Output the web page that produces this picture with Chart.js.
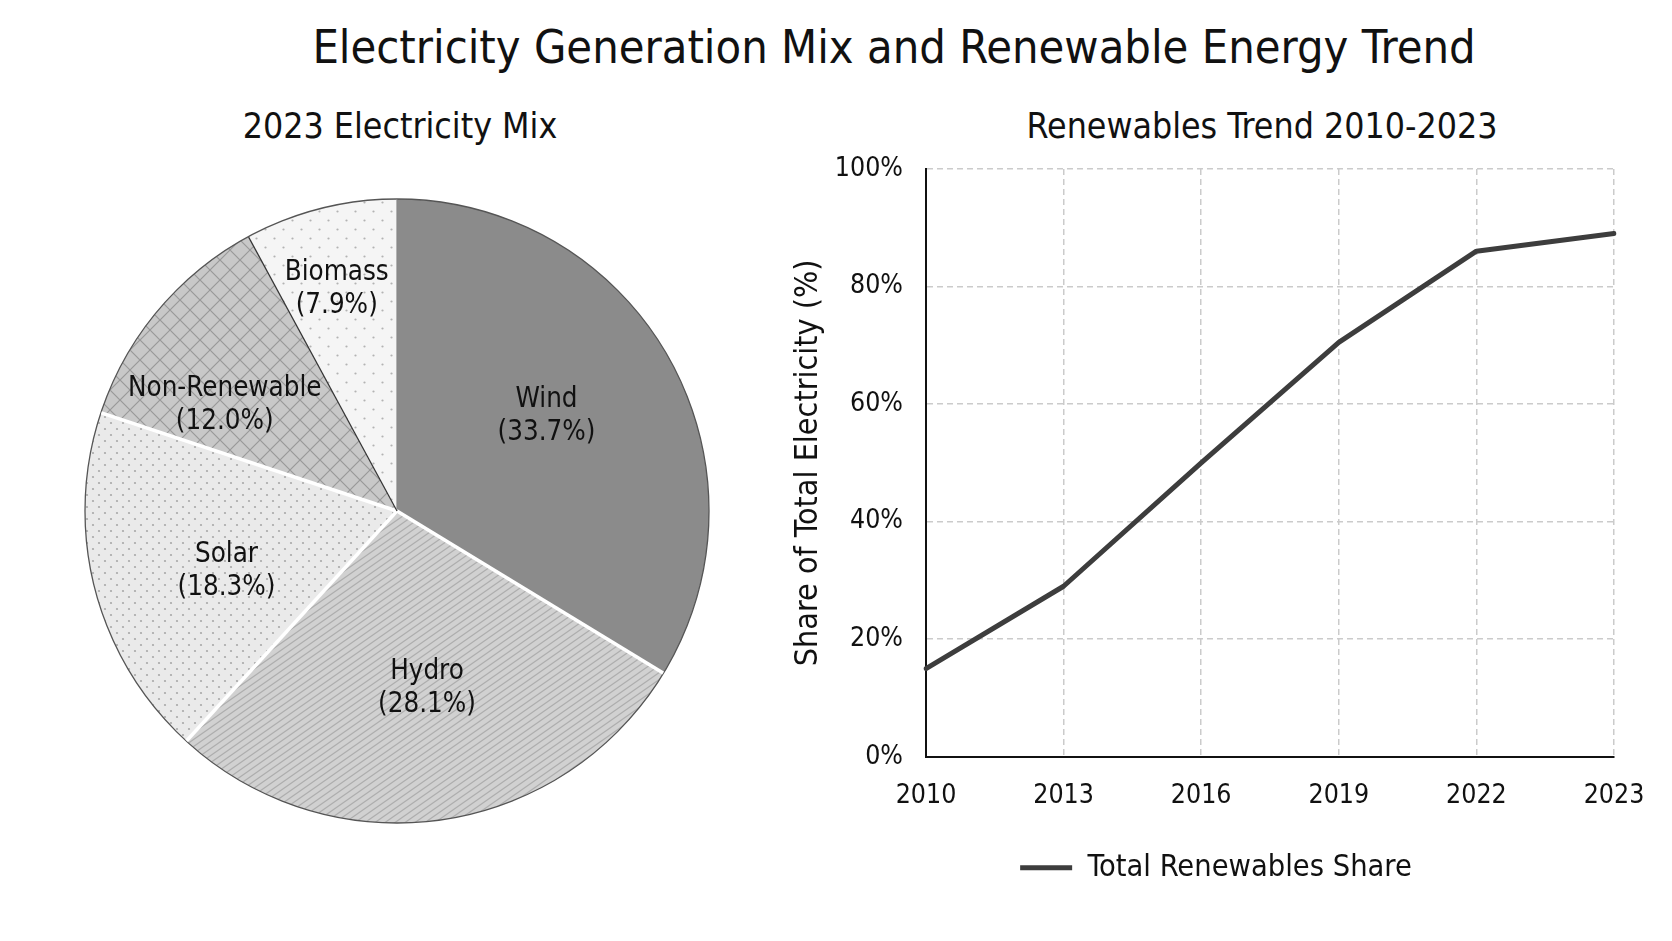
<!DOCTYPE html>
<html>
<head>
<meta charset="utf-8">
<title>Electricity Generation Mix and Renewable Energy Trend</title>
<script src="https://cdn.jsdelivr.net/npm/chart.js@4.4.1/dist/chart.umd.min.js"></script>
<style>
  html, body { margin: 0; padding: 0; background: #fff; }
  body {
    width: 1672px; height: 941px; position: relative; overflow: hidden;
    font-family: 'DejaVu Sans Condensed', 'DejaVu Sans', sans-serif; color: #111;
  }
  .title { position: absolute; left: 294px; width: 1200px; top: 24px; text-align: center; font-size: 46.6px; line-height: 46px; white-space: nowrap; }
  .subtitle { position: absolute; top: 108px; width: 600px; text-align: center; font-size: 35.4px; line-height: 35px; white-space: nowrap; }
  #mixBox { position: absolute; left: 0; top: 0; width: 760px; height: 941px; }
  #trendBox { position: absolute; left: 760px; top: 130px; width: 912px; height: 811px; }
</style>
</head>
<body>
<div class="title">Electricity Generation Mix and Renewable Energy Trend</div>
<div class="subtitle" style="left: 100px;">2023 Electricity Mix</div>
<div class="subtitle" style="left: 962px;">Renewables Trend 2010-2023</div>
<div id="mixBox"><canvas id="mixChart"></canvas></div>
<div id="trendBox"><canvas id="trendChart"></canvas></div>

<script>
// 2023 mix (pie)
const mixLabels = ["Wind", "Hydro", "Solar", "Non-Renewable", "Biomass"];
const mixShares = [33.7, 28.1, 18.3, 12.0, 7.9];

// renewables trend (line)
const trendYears = ["2010", "2013", "2016", "2019", "2022", "2023"];
const trendShares = [15, 29, 50, 70.5, 86, 89];
const shareTicks = [0, 20, 40, 60, 80, 100];

const FONT = "'DejaVu Sans Condensed', 'DejaVu Sans', sans-serif";
Chart.defaults.font.family = FONT;
Chart.defaults.color = "#111";

// hatch fills, drawn on small tiles
function makePattern(w, h, base, draw) {
  const c = document.createElement("canvas");
  c.width = w;
  c.height = h;
  const g = c.getContext("2d");
  g.fillStyle = base;
  g.fillRect(0, 0, w, h);
  draw(g, w, h);
  return g.createPattern(c, "repeat");
}

function slashes(g, w, h, color, both) {
  g.strokeStyle = color;
  g.lineWidth = 1.2;
  g.beginPath();
  for (let n = -1; n <= 1; n++) {
    g.moveTo(-w, 2 * h + n * h);
    g.lineTo(2 * w, -h + n * h);
    if (both) {
      g.moveTo(-w, -h - n * h);
      g.lineTo(2 * w, 2 * h - n * h);
    }
  }
  g.stroke();
}

function dots(g, points, r, color) {
  g.fillStyle = color;
  points.forEach(p => {
    g.beginPath();
    g.arc(p[0], p[1], r, 0, Math.PI * 2);
    g.fill();
  });
}

const mixFills = [
  "#8b8b8b",
  makePattern(10, 7, "#d1d1d1", (g, w, h) => slashes(g, w, h, "#adadad", false)),
  makePattern(12, 12, "#eaeaea", (g) => dots(g, [[3, 3], [9, 9]], 1.1, "#a9a9a9")),
  makePattern(20, 20, "#c8c8c8", (g, w, h) => slashes(g, w, h, "#999", true)),
  makePattern(18, 18, "#f5f5f5", (g) => dots(g, [[4.5, 4.5], [13.5, 13.5]], 1.1, "#b3b3b3"))
];

// outer edge, slice separators and two-line labels
const pieDecor = {
  id: "pieDecor",
  afterDatasetsDraw(chart, args, opts) {
    const arcs = chart.getDatasetMeta(0).data;
    if (!arcs.length) return;
    const ctx = chart.ctx;
    const cx = arcs[0].x, cy = arcs[0].y, R = arcs[0].outerRadius;
    ctx.save();
    ctx.beginPath();
    ctx.arc(cx, cy, R, 0, Math.PI * 2);
    ctx.strokeStyle = opts.edgeColor;
    ctx.lineWidth = opts.edgeWidth;
    ctx.stroke();

    arcs.forEach((arc, i) => {
      const a = arc.startAngle;
      ctx.beginPath();
      ctx.moveTo(cx, cy);
      ctx.lineTo(cx + Math.cos(a) * (R - 0.5), cy + Math.sin(a) * (R - 0.5));
      ctx.strokeStyle = opts.sepColors[i];
      ctx.lineWidth = opts.sepWidths[i];
      ctx.stroke();
    });

    ctx.font = opts.font;
    ctx.fillStyle = opts.color;
    ctx.textAlign = "center";
    ctx.textBaseline = "middle";
    const values = chart.data.datasets[0].data;
    arcs.forEach((arc, i) => {
      const mid = (arc.startAngle + arc.endAngle) / 2 + opts.turn[i] * Math.PI / 180;
      const r = arc.outerRadius * opts.distance[i];
      const x = arc.x + Math.cos(mid) * r;
      const y = arc.y + Math.sin(mid) * r;
      ctx.fillText(chart.data.labels[i], x, y - opts.lineGap / 2);
      ctx.fillText("(" + values[i].toFixed(1) + "%)", x, y + opts.lineGap / 2);
    });
    ctx.restore();
  }
};

new Chart(document.getElementById("mixChart"), {
  type: "pie",
  data: {
    labels: mixLabels,
    datasets: [{ data: mixShares, backgroundColor: mixFills, borderWidth: 0 }]
  },
  options: {
    responsive: true,
    maintainAspectRatio: false,
    animation: false,
    layout: { padding: { left: 85, top: 199, right: 51, bottom: 118 } },
    plugins: {
      legend: { display: false },
      tooltip: { enabled: false },
      pieDecor: {
        edgeColor: "#555",
        edgeWidth: 1.3,
        sepColors: ["#888", "#fff", "#fff", "#fff", "#333"],
        sepWidths: [1.2, 3.5, 3.5, 3.5, 1.2],
        distance: [0.567, 0.576, 0.58, 0.647, 0.736],
        turn: [-3, -1.5, -5, -8.5, -1],
        lineGap: 33,
        font: "27.5px " + FONT,
        color: "#111"
      }
    }
  },
  plugins: [pieDecor]
});

const gridStyle = { color: "#cbcbcb", lineWidth: 1.5, drawTicks: false };
const axisStyle = { display: true, color: "#111", width: 2, dash: [6, 4] };

new Chart(document.getElementById("trendChart"), {
  type: "line",
  data: {
    labels: trendYears,
    datasets: [{
      label: "Total Renewables Share",
      data: trendShares,
      borderColor: "#3d3d3d",
      backgroundColor: "#3d3d3d",
      borderWidth: 5,
      borderCapStyle: "round",
      borderJoinStyle: "round",
      pointRadius: 0,
      tension: 0,
      fill: false
    }]
  },
  options: {
    responsive: true,
    maintainAspectRatio: false,
    animation: false,
    layout: { padding: { left: 0, top: 20, right: 0, bottom: 48 } },
    plugins: {
      tooltip: { enabled: false },
      legend: {
        position: "bottom",
        labels: {
          usePointStyle: true,
          pointStyle: "line",
          pointStyleWidth: 52,
          padding: 16,
          color: "#111",
          font: { size: 30.5 }
        }
      }
    },
    scales: {
      x: {
        type: "category",
        offset: false,
        grid: gridStyle,
        border: axisStyle,
        ticks: { padding: 24, color: "#111", font: { size: 26.5 }, maxRotation: 0, autoSkip: false }
      },
      y: {
        min: 0,
        max: 100,
        grid: gridStyle,
        border: axisStyle,
        afterBuildTicks: (scale) => { scale.ticks = shareTicks.map(v => ({ value: v })); },
        afterFit: (scale) => { scale.width = 166; },
        ticks: { padding: 23, color: "#111", font: { size: 26.5 }, callback: (v) => v + "%" },
        title: {
          display: true,
          text: "Share of Total Electricity (%)",
          color: "#111",
          font: { size: 32 },
          padding: { top: 29.5, bottom: 0 }
        }
      },
      // empty right-hand margin so the legend centres like the reference
      margin: {
        position: "right",
        display: true,
        grid: { display: false },
        border: { display: false },
        ticks: { display: false },
        afterFit: (scale) => { scale.width = 58; }
      }
    }
  }
});
</script>
</body>
</html>
